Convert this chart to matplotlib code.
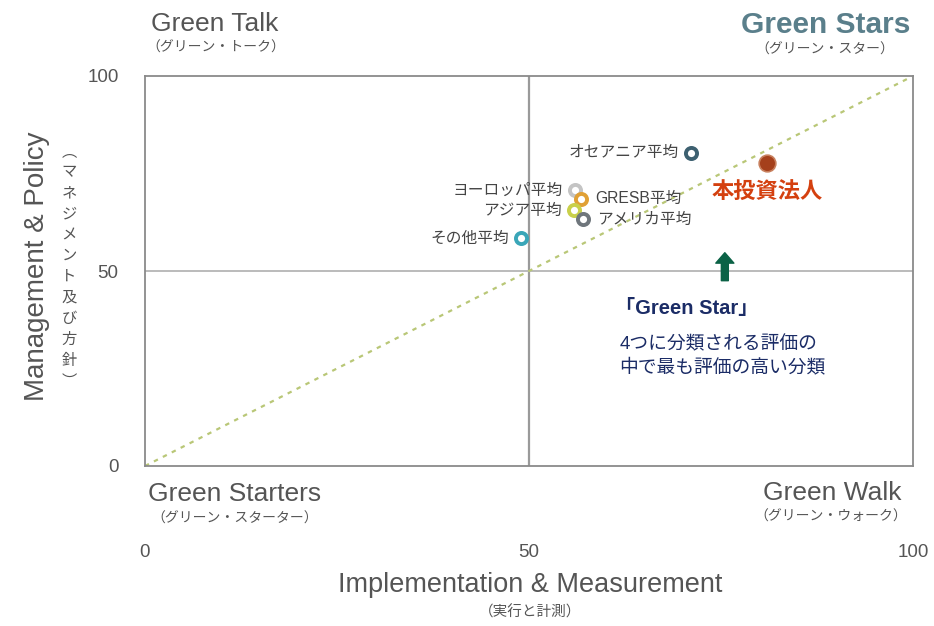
import matplotlib
matplotlib.use("Agg")
import matplotlib.pyplot as plt

plt.rcParams['font.family'] = ['Liberation Sans', 'Noto Sans CJK JP', 'DejaVu Sans']

# ---- data ----
region_names = ["オセアニア平均", "ヨーロッパ平均", "GRESB平均", "アジア平均", "アメリカ平均", "その他平均"]
region_x = [71.1, 56.0, 56.8, 55.9, 57.0, 49.0]
region_y = [80.3, 70.8, 68.5, 65.6, 63.3, 58.5]
region_colors = ["#3d6070", "#c4c4c4", "#e0a035", "#c9d04a", "#6f767c", "#3aa6b8"]
label_side = ["left", "left", "right", "left", "right", "left"]

self_name = "本投資法人"
self_x = [81.0]
self_y = [77.7]

axis_ticks = [0, 50, 100]
tick_labels = ["0", "50", "100"]

fig = plt.figure(figsize=(9.34, 6.26), dpi=100)
ax = fig.add_axes([145/934, 1 - 466/626, 768/934, 390/626])
ax.set_xlim(0, 100)
ax.set_ylim(0, 100)

for s in ax.spines.values():
    s.set_color("#8a8a8a")
    s.set_linewidth(1.3)

# quadrant lines
ax.axvline(50, color="#9a9a9a", lw=1.6, zorder=1)
ax.axhline(50, color="#b5b5b5", lw=1.3, zorder=1)
# diagonal
ax.plot([0, 100], [0, 100], ls=(0, (2, 2.5)), color="#b9c777", lw=1.6, zorder=1)

# ticks
ax.set_xticks(axis_ticks)
ax.set_xticklabels(tick_labels)
ax.set_yticks(axis_ticks)
ax.set_yticklabels(tick_labels)
ax.tick_params(axis="both", length=0, colors="#555555", labelsize=13.5)
ax.tick_params(axis="x", pad=56)
ax.tick_params(axis="y", pad=19)

# region points
for name, x, y, c, side in zip(region_names, region_x, region_y, region_colors, label_side):
    ax.plot(x, y, "o", ms=8, mfc="white", mec=c, mew=2.8, zorder=4)
    if side == "left":
        ax.annotate(name, (x, y), xytext=(-9, 0), textcoords="offset points",
                    ha="right", va="center", fontsize=11.3, color="#444444")
    else:
        ax.annotate(name, (x, y), xytext=(10, 0), textcoords="offset points",
                    ha="left", va="center", fontsize=11.3, color="#444444")

# self point
ax.plot(self_x, self_y, "o", ms=12, mfc="#a5401c", mec="#c8805e", mew=1.2, zorder=5)
ax.annotate(self_name, (self_x[0], self_y[0]), xytext=(-40, -22), textcoords="offset points",
            ha="left", va="center", fontsize=16, color="#d4400f", fontweight="bold")

# arrow
ax.annotate("", xy=(75.5, 55.4), xytext=(75.5, 46.8),
            arrowprops=dict(arrowstyle="simple,head_width=1.3,head_length=0.75,tail_width=0.5",
                            fc="#0b6246", ec="#0b6246"))

# annotation text
ax.text(61.2, 40.5, "「Green Star」", fontsize=14.5, fontweight="bold", color="#1b2c66",
        ha="left", va="center")
ax.text(61.8, 31.0, "4つに分類される評価の", fontsize=13.5, color="#1b2c66", ha="left", va="center")
ax.text(61.8, 25.2, "中で最も評価の高い分類", fontsize=13.5, color="#1b2c66", ha="left", va="center")

# quadrant labels
gray = "#555555"
fig.text(215/934, 1 - 24/626, "Green Talk", fontsize=19, color=gray, ha="center", va="center")
fig.text(216/934, 1 - 48/626, "（グリーン・トーク）", fontsize=10, color=gray, ha="center", va="center")
fig.text(826/934, 1 - 25/626, "Green Stars", fontsize=21.5, color="#5a7f8b", ha="center", va="center",
         fontweight="bold")
fig.text(825/934, 1 - 50/626, "（グリーン・スター）", fontsize=10, color=gray, ha="center", va="center")
fig.text(235/934, 1 - 494/626, "Green Starters", fontsize=19, color=gray, ha="center", va="center")
fig.text(235/934, 1 - 519/626, "（グリーン・スターター）", fontsize=10, color=gray, ha="center", va="center")
fig.text(832/934, 1 - 493/626, "Green Walk", fontsize=19, color=gray, ha="center", va="center")
fig.text(831/934, 1 - 517/626, "（グリーン・ウォーク）", fontsize=10, color=gray, ha="center", va="center")

# axis titles
fig.text(530/934, 1 - 585/626, "Implementation & Measurement", fontsize=19.5, color=gray,
         ha="center", va="center")
fig.text(530/934, 1 - 612/626, "（実行と計測）", fontsize=10.5, color=gray, ha="center", va="center")
fig.text(37/934, 1 - 266/626, "Management & Policy", fontsize=20, color=gray,
         ha="center", va="center", rotation=90)
vert = "\n".join(list("︵マネジメント及び方針︶"))
fig.text(69/934, 1 - 266/626, vert, fontsize=11, color=gray, ha="center", va="center",
         linespacing=1.3, family=['Noto Sans CJK JP', 'DejaVu Sans'])

fig.savefig("out.png", dpi=100)
